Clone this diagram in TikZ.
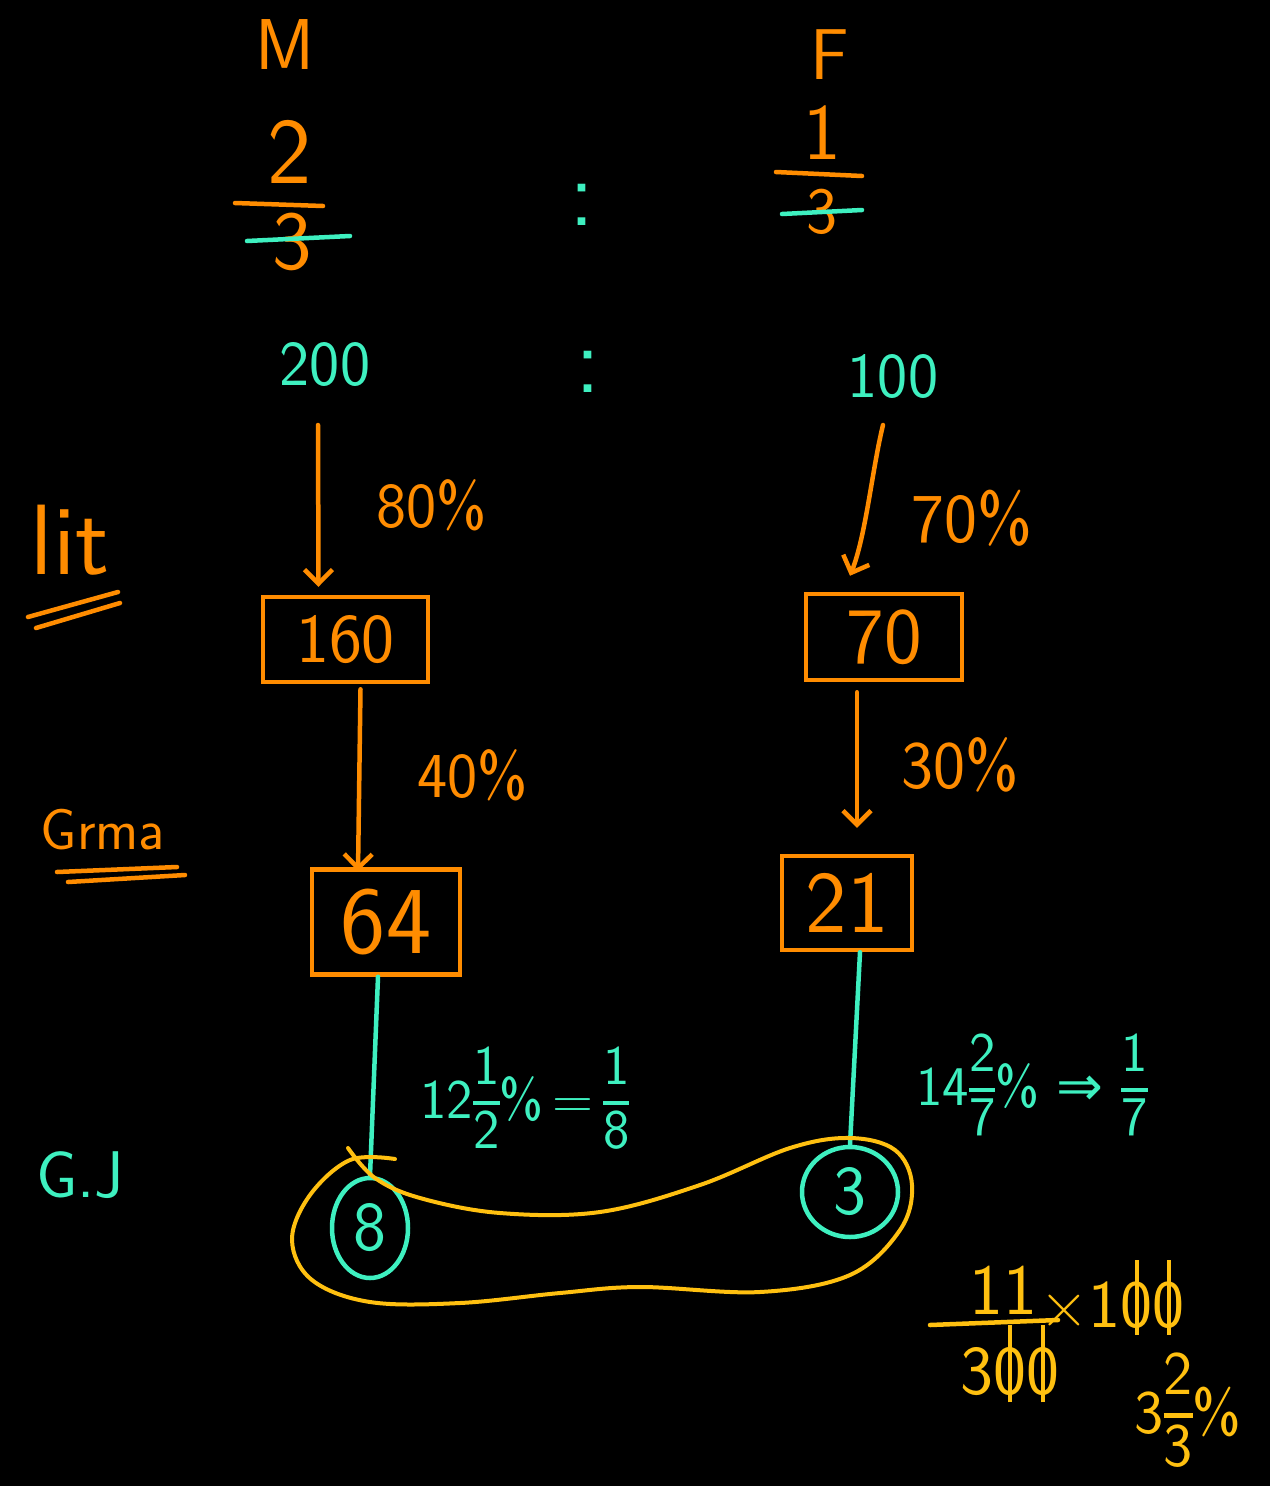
\documentclass[tikz,border=0pt]{standalone}
\usepackage{fontspec}
\usetikzlibrary{positioning,calc,shapes.geometric,arrows.meta}
\definecolor{penorange}{RGB}{255,140,0}
\definecolor{penteal}{RGB}{62,240,192}
\definecolor{penyellow}{RGB}{255,192,16}
\newfontfamily\symfont{DejaVu Sans}
\newcommand{\handsize}[1]{\fontsize{#1}{#1}\selectfont\sffamily}
\newcommand{\hfrac}[2]{\raisebox{0.62em}{\setlength\arrayrulewidth{0.07em}\begin{tabular}[t]{@{}c@{}}#1\\\hline\rule{0pt}{0.78em}#2\end{tabular}}}
\newcommand{\zerostrike}{\ooalign{0\cr\hidewidth\rule[-0.25ex]{0.06em}{1.1em}\hidewidth\cr}}
\begin{document}
\begin{tikzpicture}[x=1pt,y=-1pt,
  hand/.style={line width=4.5pt,line cap=round,line join=round},
  arr/.style={hand,penorange,-{Straight Barb[length=14pt,width=28pt,line width=4.5pt]}},
  numbox/.style={draw=penorange,line width=4.5pt,text=penorange,inner sep=0pt}]
  \useasboundingbox (0,0) rectangle (1270,1486);
  \fill[black] (0,0) rectangle (1270,1486);
  % column heads and ratio
  \node[penorange,font=\handsize{72}] (m) at (285,45) {M};
  \node[penorange,font=\handsize{72}] (f) at (830,55) {F};
  \node[penorange,font=\handsize{94}] (mnum) at (290,152) {2};
  \node[penorange,font=\handsize{84}] (mden) at (292,242) {3};
  \draw[hand,penorange] (235,203) -- (323,206);
  \draw[hand,penteal] (247,241) -- (350,236);
  \node[penorange,font=\handsize{80}] (fnum) at (822,133) {1};
  \node[penorange,font=\handsize{66}] (fden) at (822,212) {3};
  \draw[hand,penorange] (776,172) -- (862,176);
  \draw[hand,penteal] (782,214) -- (862,210);
  \node[penteal,font=\handsize{96}] (c1) at (582,205) {:};
  \node[penteal,font=\handsize{96}] (c2) at (588,372) {:};
  \node[penteal,font=\handsize{64}] (n200) at (325,365) {200};
  \node[penteal,font=\handsize{64}] (n100) at (893,377) {100};
  % row labels
  \node[penorange,font=\handsize{100}] (lit) at (70,540) {lit};
  \draw[hand,penorange] (28,617) -- (118,592);
  \draw[hand,penorange] (36,628) -- (120,603);
  \node[penorange,font=\handsize{58}] (grma) at (103,830) {Grma};
  \draw[hand,penorange] (57,872) -- (177,867);
  \draw[hand,penorange] (68,882) -- (185,875);
  \node[penteal,font=\handsize{66}] (gj) at (80,1175) {G.J};
  % boxes
  \node[numbox,minimum width=165,minimum height=85,font=\handsize{70}] (n160) at (345.5,639.5) {160};
  \node[numbox,minimum width=156,minimum height=86,font=\handsize{80}] (n70) at (884,637) {70};
  \node[numbox,minimum width=148,minimum height=105,font=\handsize{96}] (n64) at (386,922) {64};
  \node[numbox,minimum width=130,minimum height=94,font=\handsize{88}] (n21) at (847,903) {21};
  % arrows and rates
  \draw[arr] ($(n200.center)+(-7,60)$) -- ($(n160.north)+(-27,-8)$);
  \draw[arr] ($(n100.center)+(-10,48)$) .. controls (872,470) and (866,535) .. ($(n70.north)+(-34,-16)$);
  \draw[arr] ($(n160.south)+(15,5)$) -- ($(n64.north)+(-28,4)$);
  \draw[arr] ($(n70.south)+(-27,10)$) -- ($(n21.north)+(10,-26)$);
  \node[penorange,font=\handsize{64}] (p80) at (432,505) {80\%};
  \node[penorange,font=\handsize{70}] (p70) at (972,518) {70\%};
  \node[penorange,font=\handsize{64}] (p40) at (473,775) {40\%};
  \node[penorange,font=\handsize{68}] (p30) at (960,765) {30\%};
  % circled results
  \node[ellipse,draw=penteal,line width=4.5pt,text=penteal,minimum width=76,minimum height=100,inner sep=0pt,font=\handsize{70}] (c8) at (370,1228) {8};
  \node[ellipse,draw=penteal,line width=4.5pt,text=penteal,minimum width=96,minimum height=90,inner sep=0pt,font=\handsize{70}] (c3) at (850,1192) {3};
  \draw[hand,penteal] ($(n64.south)+(-8,0)$) -- (c8.north);
  \draw[hand,penteal] ($(n21.south)+(13,0)$) -- (c3.north);
  \node[penteal,font=\handsize{56},inner sep=0pt] (q8) at (525,1105) {12\hfrac{1}{2}\%\,=\,\hfrac{1}{8}};
  \node[penteal,font=\handsize{56},inner sep=0pt] (q7) at (1032,1092) {14\hfrac{2}{7}\%~{\symfont ⇒}~\hfrac{1}{7}};
  % group loop
  \draw[penyellow,line width=4pt,line cap=round] plot[smooth,tension=0.6] coordinates {
    (395,1159) (350,1160) (310,1195) (292,1240) (312,1280) (370,1302) (460,1303)
    (560,1293) (640,1287) (760,1292) (850,1275) (900,1230) (912,1185) (895,1150)
    (850,1138) (790,1148) (700,1185) (600,1212) (500,1213) (420,1198) (375,1178) (348,1148)};
  % working
  \node[penyellow,font=\handsize{72}] (y11) at (1003,1290) {11};
  \draw[hand,penyellow] (930,1325) -- (1058,1320);
  \node[penyellow,font=\handsize{70}] (y300) at (1010,1375) {3\zerostrike\zerostrike};
  \node[penyellow,font=\handsize{68}] (y100) at (1112,1308) {×1\zerostrike\zerostrike};
  \node[penyellow,font=\handsize{62},inner sep=0pt] (yres) at (1188,1418) {3\hfrac{2}{3}\%};
\end{tikzpicture}
\end{document}
